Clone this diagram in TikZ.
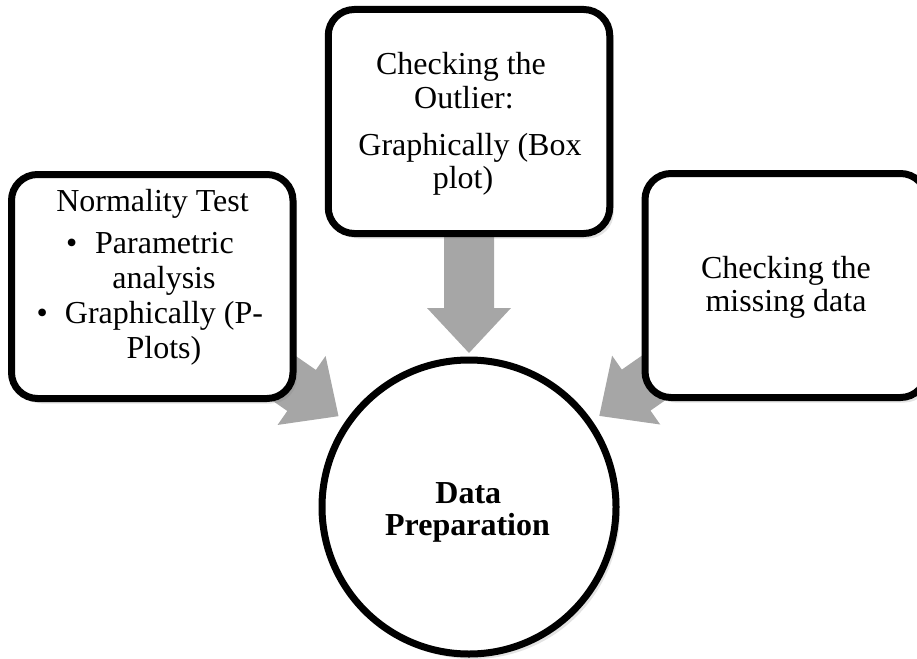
\documentclass[tikz,border=0pt]{standalone}
\usepackage{fontspec}
\setmainfont{Liberation Serif}
\usetikzlibrary{calc,shadows}
\definecolor{arrowgray}{RGB}{166,166,166}
\pgfdeclarelayer{background}
\pgfsetlayers{background,main}
\newcommand\fatarrow[3]{% #1 from node, #2 tip coordinate, #3 name prefix
  \coordinate (#3-b) at ($(#2)!45pt!(#1)$);
  \fill[arrowgray] (#2)
    -- ($(#3-b)!42pt!90:(#2)$) -- ($(#3-b)!25pt!90:(#2)$)
    -- ($(#1)!25pt!90:(#2)$) -- ($(#1)!25pt!-90:(#2)$)
    -- ($(#3-b)!25pt!-90:(#2)$) -- ($(#3-b)!42pt!-90:(#2)$) -- cycle;}
\begin{document}
\begin{tikzpicture}[x=1pt,y=-1pt,
  box/.style={draw=black, line width=7pt, fill=white, rounded corners=26pt,
    minimum width=281.5pt, minimum height=224pt, inner sep=0pt,
    drop shadow={opacity=0.22, shadow xshift=4pt, shadow yshift=-5pt}},
  hub/.style={draw=black, line width=7pt, fill=white, circle, minimum size=294pt,
    inner sep=0pt, drop shadow={opacity=0.22, shadow xshift=4pt, shadow yshift=-5pt}},
  txt/.style={anchor=base, inner sep=0pt, font=\fontsize{32}{38}\selectfont},
  boldtxt/.style={txt, font=\fontsize{32}{38}\selectfont\bfseries}]
\useasboundingbox (0,0) rectangle (917,658);
\clip (0,0) rectangle (917,658);

% boxes and hub
\node[box] (norm) at (152.25,286.5) {};
\node[box] (outl) at (469,121.5) {};
\node[box] (miss) at (785.75,285.5) {};
\node[hub] (hub) at (469,507) {};

% arrow tips
\coordinate (tipL) at ($(hub.center)!159pt!(norm.center)$);
\coordinate (tipT) at ($(hub.center)!154pt!(outl.center)$);
\coordinate (tipR) at ($(hub.center)!159pt!(miss.center)$);

\begin{pgfonlayer}{background}
  \fatarrow{norm.center}{tipL}{aL}
  \fatarrow{outl.center}{tipT}{aT}
  \fatarrow{miss.center}{tipR}{aR}
\end{pgfonlayer}

% texts
\node[txt] (norm-t) at (152.5,211.7) {Normality Test};
\node[txt] (norm-a) at (164.5,253.3) {\llap{•\hspace{18pt}}Parametric};
\node[txt] (norm-b) at (164,288.3) {analysis};
\node[txt] (norm-c) at (164,323.3) {\llap{•\hspace{17pt}}Graphically (P-};
\node[txt] (norm-d) at (164,358.3) {Plots)};

\node[txt] (outl-a) at (461,75) {Checking the};
\node[txt] (outl-b) at (464,108.3) {Outlier:};
\node[txt] (outl-c) at (470,155) {Graphically (Box};
\node[txt] (outl-d) at (463,188.3) {plot)};

\node[txt] (miss-a) at (786,278.3) {Checking the};
\node[txt] (miss-b) at (786,311.7) {missing data};

\node[boldtxt] (hub-a) at (468.3,503.3) {Data};
\node[boldtxt] (hub-b) at (467.5,535) {Preparation};
\end{tikzpicture}
\end{document}
